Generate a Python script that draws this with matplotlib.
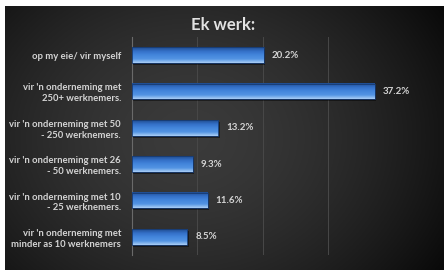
import numpy as np
import matplotlib
matplotlib.use("Agg")
import matplotlib.pyplot as plt
from matplotlib.colors import LinearSegmentedColormap

# data
categories = ["op my eie/ vir myself",
              "vir 'n onderneming met\n250+ werknemers.",
              "vir 'n onderneming met 50\n- 250 werknemers.",
              "vir 'n onderneming met 26\n- 50 werknemers.",
              "vir 'n onderneming met 10\n- 25 werknemers.",
              "vir 'n onderneming met\nminder as 10 werknemers"]
values = [20.2, 37.2, 13.2, 9.3, 11.6, 8.5]
value_labels = ["20.2%", "37.2%", "13.2%", "9.3%", "11.6%", "8.5%"]
title = "Ek werk:"

plt.rcParams['font.family'] = ['Lato', 'DejaVu Sans']

fig = plt.figure(figsize=(4.46, 2.75), dpi=100)
fig.patch.set_facecolor('white')

# dark radial background panel
bg = fig.add_axes([5/446, 5/275, 439/446, 264/275])
yy, xx = np.mgrid[0:1:200j, 0:1:300j]
r = np.sqrt(((xx - 0.42) / 0.7) ** 2 + ((yy - 0.5) / 0.95) ** 2)
shade = np.clip(0.23 - 0.2 * r ** 1.6, 0.03, 0.23)
bg.imshow(np.dstack([shade, shade, shade]), aspect='auto', extent=[0, 1, 0, 1])
bg.axis('off')

ax = fig.add_axes([132/446, 20/275, 261/446, 218/275])
ax.patch.set_alpha(0)
y = np.arange(len(values))
h = 0.44
bar_cmap = LinearSegmentedColormap.from_list(
    'bar', ['#1f4c90', '#3470c8', '#4386dc', '#5394e3', '#a8cdf5'])
grad = np.linspace(0, 1, 50).reshape(-1, 1)
for yi, v, lab in zip(y, values, value_labels):
    # shadow
    ax.barh(yi + 0.05, v + 0.25, height=h, color='black', alpha=0.45, lw=0, zorder=2)
    ax.imshow(grad, cmap=bar_cmap, aspect='auto', origin='upper',
              extent=[0, v, yi + h / 2, yi - h / 2], zorder=3)
    ax.barh(yi, v, height=h, fill=False, edgecolor='#173a70', lw=0.6, zorder=4)
    ax.text(v + 1.2, yi, lab, color='#d4d4d4', fontsize=7, va='center', ha='left',
            fontweight='bold')

ax.set_xlim(0, 40)
ax.set_ylim(len(values) - 0.5, -0.5)
ax.set_xticks([0, 10, 20, 30, 40])
ax.xaxis.grid(True, color='#484848', lw=0.7, zorder=0)
ax.tick_params(axis='x', length=0, labelbottom=False)
ax.tick_params(axis='y', length=0, pad=8)
ax.set_yticks(y)
ax.set_yticklabels(categories, fontsize=6.8, color='#d4d4d4', fontweight='bold', linespacing=1.25)
for s in ['top', 'right', 'bottom']:
    ax.spines[s].set_visible(False)
ax.spines['left'].set_color('#6a6a6a')
ax.spines['left'].set_linewidth(0.8)

fig.text(223/446, 1 - 25/275, title, color='#e2e2e2', fontsize=12, fontweight='bold',
         ha='center', va='center')

fig.savefig('out.png', dpi=100)
